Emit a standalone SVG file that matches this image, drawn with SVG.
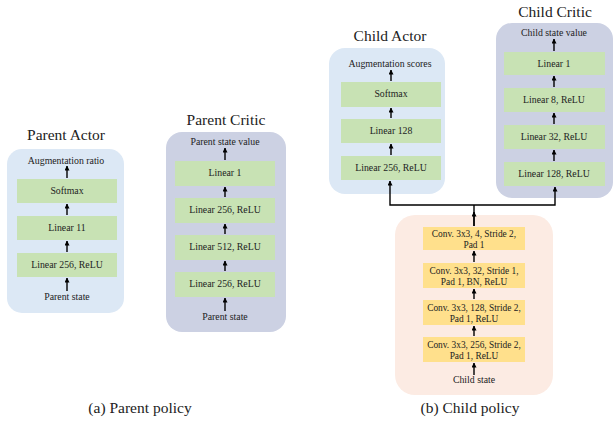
<svg xmlns="http://www.w3.org/2000/svg" width="613" height="424" viewBox="0 0 613 424" font-family="Liberation Serif, Times New Roman, Times, serif">
<defs>
<marker id="ah" viewBox="0 0 10 10" refX="9" refY="5" markerWidth="5" markerHeight="5" orient="auto" markerUnits="userSpaceOnUse">
<path d="M0,0 L10,5 L0,10 z" fill="#000"/>
</marker>
</defs>
<style>
text{fill:#222;text-anchor:middle}
.t{font-size:9.8px}
.s{font-size:9.4px}
.h{font-size:15.5px}
.c{font-size:15.5px}
.actor{fill:#dce8f5}
.critic{fill:#ccd1e3}
.conv{fill:#fcebe3}
.g{fill:#c8e2b4}
.y{fill:#ffe08c}
.a{stroke:#000;stroke-width:1.4;fill:none;marker-end:url(#ah)}
.l{stroke:#000;stroke-width:1.4;fill:none}
</style>
<rect width="613" height="424" fill="#fff"/>

<g id="parent-actor">
<text class="h" x="66" y="140">Parent Actor</text>
<rect class="actor" x="7" y="149" width="117" height="164" rx="15"/>
<text class="t" x="66" y="164">Augmentation ratio</text>
<rect class="g" x="17" y="179" width="100" height="24"/>
<text class="t" x="67" y="194">Softmax</text>
<rect class="g" x="17" y="216" width="100" height="24"/>
<text class="t" x="67" y="231">Linear 11</text>
<rect class="g" x="17" y="253" width="100" height="24"/>
<text class="t" x="67" y="268">Linear 256, ReLU</text>
<text class="t" x="67" y="300">Parent state</text>
</g>

<g id="parent-critic">
<text class="h" x="226" y="125">Parent Critic</text>
<rect class="critic" x="166" y="132" width="120" height="200" rx="16"/>
<text class="t" x="225" y="145">Parent state value</text>
<rect class="g" x="175" y="161" width="100" height="25"/>
<text class="t" x="225" y="176">Linear 1</text>
<rect class="g" x="175" y="198" width="100" height="25"/>
<text class="t" x="225" y="213">Linear 256, ReLU</text>
<rect class="g" x="175" y="235" width="100" height="25"/>
<text class="t" x="225" y="250">Linear 512, ReLU</text>
<rect class="g" x="175" y="272" width="100" height="25"/>
<text class="t" x="225" y="287">Linear 256, ReLU</text>
<text class="t" x="225" y="320">Parent state</text>
</g>

<g id="child-actor">
<text class="h" x="390" y="41">Child Actor</text>
<rect class="actor" x="329" y="48" width="116" height="146" rx="16"/>
<text class="t" x="390" y="67">Augmentation scores</text>
<rect class="g" x="341" y="82" width="100" height="25"/>
<text class="t" x="391" y="97">Softmax</text>
<rect class="g" x="341" y="119" width="100" height="24"/>
<text class="t" x="391" y="134">Linear 128</text>
<rect class="g" x="341" y="156" width="100" height="24"/>
<text class="t" x="391" y="171">Linear 256, ReLU</text>
</g>

<g id="child-critic">
<text class="h" x="555" y="17">Child Critic</text>
<rect class="critic" x="496" y="23" width="117" height="175" rx="16"/>
<text class="t" x="554" y="36">Child state value</text>
<rect class="g" x="504" y="52" width="101" height="23"/>
<text class="t" x="554" y="67">Linear 1</text>
<rect class="g" x="504" y="88" width="101" height="24"/>
<text class="t" x="554" y="103">Linear 8, ReLU</text>
<rect class="g" x="504" y="125" width="101" height="24"/>
<text class="t" x="554" y="140">Linear 32, ReLU</text>
<rect class="g" x="504" y="162" width="101" height="24"/>
<text class="t" x="554" y="177">Linear 128, ReLU</text>
</g>

<g id="child-encoder">
<rect class="conv" x="395" y="215" width="158" height="180" rx="20"/>
<rect class="y" x="423" y="227" width="102" height="23"/>
<text class="s" x="474" y="237">Conv. 3x3, 4, Stride 2,</text>
<text class="s" x="474" y="247.5">Pad 1</text>
<rect class="y" x="423" y="263" width="102" height="25"/>
<text class="s" x="474" y="274">Conv. 3x3, 32, Stride 1,</text>
<text class="s" x="474" y="285">Pad 1, BN, ReLU</text>
<rect class="y" x="423" y="300" width="102" height="25"/>
<text class="s" x="474" y="311">Conv. 3x3, 128, Stride 2,</text>
<text class="s" x="474" y="322">Pad 1, ReLU</text>
<rect class="y" x="423" y="337" width="102" height="25"/>
<text class="s" x="474" y="348">Conv. 3x3, 256, Stride 2,</text>
<text class="s" x="474" y="359">Pad 1, ReLU</text>
<text class="t" x="474" y="383">Child state</text>
</g>

<g id="captions">
<text class="c" x="140" y="413">(a) Parent policy</text>
<text class="c" x="470" y="413">(b) Child policy</text>
</g>

<g id="connectors">
<line class="a" x1="67" y1="178" x2="67" y2="166"/>
<line class="a" x1="67" y1="215" x2="67" y2="204"/>
<line class="a" x1="67" y1="252" x2="67" y2="241"/>
<line class="a" x1="67" y1="291" x2="67" y2="278"/>

<line class="a" x1="225" y1="160" x2="225" y2="148"/>
<line class="a" x1="225" y1="197" x2="225" y2="187"/>
<line class="a" x1="225" y1="234" x2="225" y2="224"/>
<line class="a" x1="225" y1="271" x2="225" y2="261"/>
<line class="a" x1="225" y1="311" x2="225" y2="298"/>

<line class="a" x1="391" y1="81" x2="391" y2="70"/>
<line class="a" x1="391" y1="118" x2="391" y2="108"/>
<line class="a" x1="391" y1="155" x2="391" y2="144"/>

<line class="a" x1="554" y1="51" x2="554" y2="39"/>
<line class="a" x1="554" y1="87" x2="554" y2="76"/>
<line class="a" x1="554" y1="124" x2="554" y2="113"/>
<line class="a" x1="554" y1="161" x2="554" y2="150"/>

<line class="a" x1="474" y1="262" x2="474" y2="251"/>
<line class="a" x1="474" y1="299" x2="474" y2="289"/>
<line class="a" x1="474" y1="336" x2="474" y2="326"/>
<line class="a" x1="474" y1="375" x2="474" y2="363"/>

<polyline class="l" points="474,226 474,205"/>
<line class="a" x1="474" y1="226" x2="474" y2="212"/>
<polyline class="a" points="474,205 390,205 390,181"/>
<polyline class="a" points="474,205 555,205 555,187"/>
</g>
</svg>
